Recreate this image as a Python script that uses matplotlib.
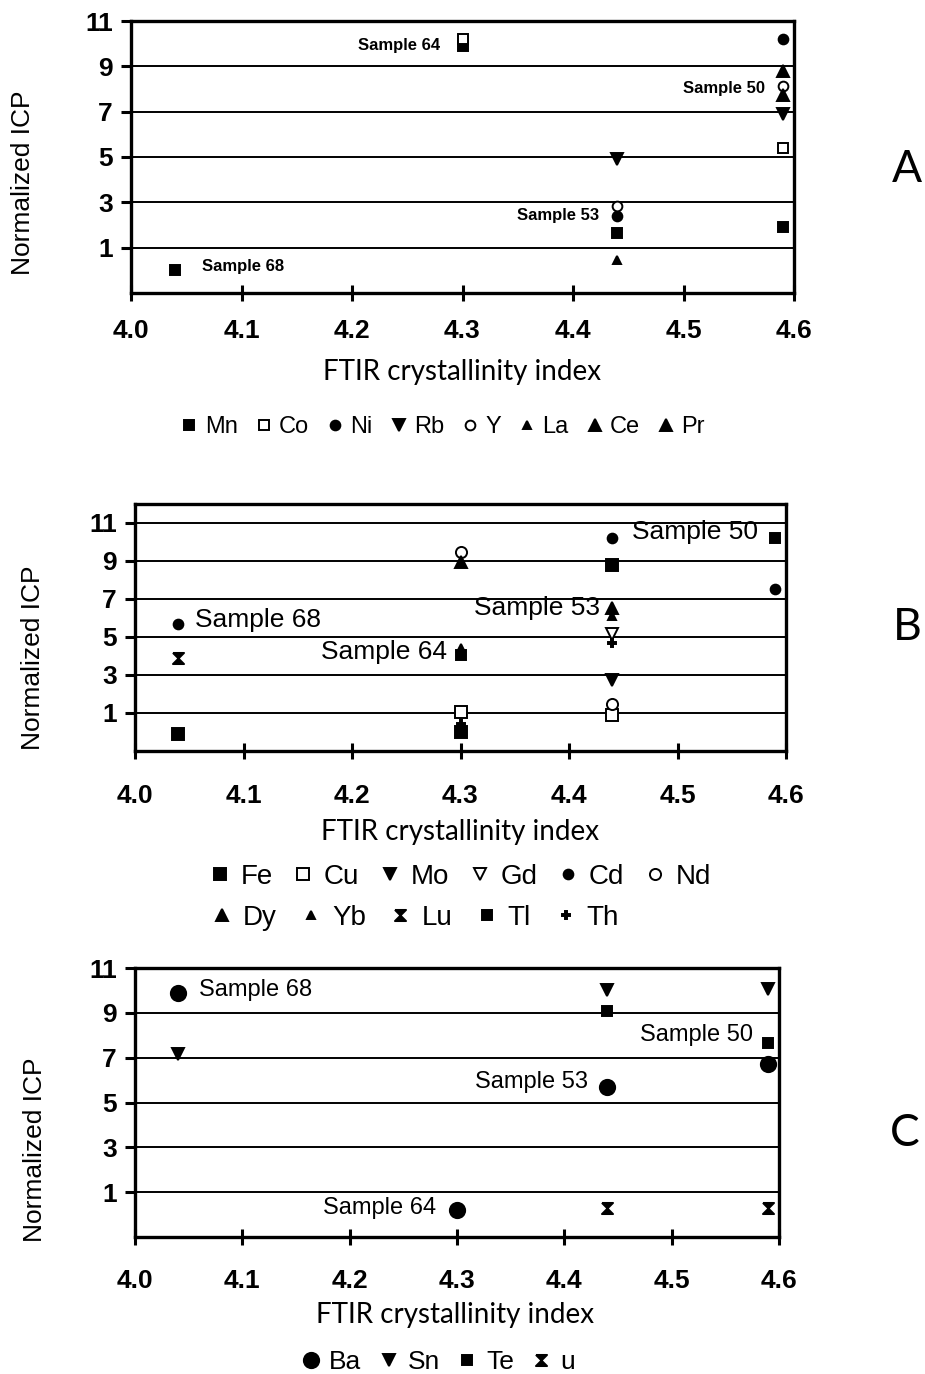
import numpy as np
import matplotlib
matplotlib.use("Agg")
import matplotlib.pyplot as plt
from matplotlib.lines import Line2D

plt.rcParams['font.family'] = ['Liberation Sans', 'DejaVu Sans']

nan = np.nan

# FTIR crystallinity index of each sample (x positions)
samples = ["Sample 68", "Sample 64", "Sample 53", "Sample 50"]
ftir_index = [4.04, 4.30, 4.44, 4.59]

# ---- Panel A: normalized ICP, order = samples 68, 64, 53, 50 ----
elements_a = ["Mn", "Co", "Ni", "Rb", "Y", "La", "Ce", "Pr"]
mn_a = [0.0, 9.9, 1.65, 1.9]
co_a = [nan, 10.2, nan, 5.4]
ni_a = [nan, nan, 2.4, 10.2]
rb_a = [nan, nan, 4.9, 6.9]
y_a = [nan, nan, 2.85, 8.15]
la_a = [nan, nan, 0.45, nan]
ce_a = [nan, nan, nan, 8.8]
pr_a = [nan, nan, nan, 7.75]
values_a = [mn_a, co_a, ni_a, rb_a, y_a, la_a, ce_a, pr_a]

# ---- Panel B ----
elements_b = ["Fe", "Cu", "Mo", "Gd", "Cd", "Nd", "Dy", "Yb", "Lu", "Tl", "Th"]
fe_b = [-0.1, 0.0, 8.8, nan]
cu_b = [nan, 1.05, 0.9, nan]
mo_b = [nan, nan, 2.75, nan]
gd_b = [nan, nan, 5.15, nan]
cd_b = [5.7, nan, 10.2, 7.55]
nd_b = [nan, 9.5, 1.5, nan]
dy_b = [nan, 8.95, 6.55, nan]
yb_b = [nan, 4.4, 6.1, nan]
lu_b = [3.9, nan, nan, nan]
tl_b = [nan, 4.05, nan, 10.2]
th_b = [nan, 0.4, 4.7, nan]
values_b = [fe_b, cu_b, mo_b, gd_b, cd_b, nd_b, dy_b, yb_b, lu_b, tl_b, th_b]

# ---- Panel C ----
elements_c = ["Ba", "Sn", "Te", "u"]
ba_c = [9.9, 0.2, 5.7, 6.7]
sn_c = [7.15, nan, 10.0, 10.05]
te_c = [nan, nan, 9.1, 7.65]
u_c = [nan, nan, 0.28, 0.3]
values_c = [ba_c, sn_c, te_c, u_c]

# sample label placement: (y value, horizontal offset in points)
label_pos_a = [(0.15, 19), (9.9, -16), (2.4, -13), (8.0, -13)]
label_pos_b = [(5.9, 12), (4.2, -10), (6.5, -9), (10.5, -12)]
label_pos_c = [(10.0, 15), (0.3, -15), (5.9, -14), (8.0, -11)]

HOURGLASS = [(-1, 1), (1, 1), (-1, -1), (1, -1), (-1, 1)]


def style(marker, size, open_face=False):
    return dict(marker=marker, ms=size, mec='black', mew=1.4,
                mfc='white' if open_face else 'black')


styles_a = [style('s', 7), style('s', 7, True), style('o', 7), style('v', 8),
            style('o', 7, True), style('^', 6), style('^', 8), style('^', 8)]
styles_b = [style('s', 8), style('s', 8, True), style('v', 8), style('v', 8, True),
            style('o', 7), style('o', 8, True), style('^', 8), style('^', 6),
            style(HOURGLASS, 8), style('s', 7), style('P', 6)]
styles_c = [style('o', 11), style('v', 8), style('s', 7), style(HOURGLASS, 8)]

W, H = 925, 1374
fig = plt.figure(figsize=(W / 100, H / 100), dpi=100)


def px_rect(left, right, top, bottom):
    return [left / W, 1 - bottom / H, (right - left) / W, (bottom - top) / H]


def panel(rect, ymax, elements, values, styles, label_pos, label_kw, xpad):
    ax = fig.add_axes(rect)
    ax.set_xlim(4.0, 4.6)
    ax.set_ylim(-1, ymax)
    ax.set_xticks(np.round(np.arange(4.0, 4.61, 0.1), 1))
    ax.set_xticklabels([f"{v:.1f}" for v in np.arange(4.0, 4.61, 0.1)],
                       fontsize=19, fontweight='bold')
    ax.set_yticks([1, 3, 5, 7, 9, 11])
    ax.set_yticklabels(["1", "3", "5", "7", "9", "11"], fontsize=19, fontweight='bold')
    ax.yaxis.grid(True, color='black', lw=1.4)
    ax.set_axisbelow(True)
    for sp in ax.spines.values():
        sp.set_linewidth(2.4)
    ax.tick_params(axis='x', direction='inout', length=12, width=2.2, pad=xpad)
    ax.tick_params(axis='y', direction='out', length=7, width=2.2, pad=6)
    for vals, st in zip(values, styles):
        ax.plot(ftir_index, vals, ls='none', **st)
    for name, xv, (yv, dx) in zip(samples, ftir_index, label_pos):
        ax.annotate(name, xy=(xv, yv), xytext=(dx, 0), textcoords='offset points',
                    ha='left' if dx > 0 else 'right', va='center', **label_kw)
    return ax


def legend_handles(styles):
    return [Line2D([], [], ls='none', **st) for st in styles]


title_font = dict(family=['Lato', 'DejaVu Sans'], fontsize=20)
letter_font = dict(family=['Lato', 'DejaVu Sans'], fontsize=32)

# Panel A
panel(px_rect(131, 794, 21, 293), 11, elements_a, values_a, styles_a, label_pos_a,
      dict(fontsize=12, fontweight='bold'), 13)
fig.text(462 / W, 1 - 372 / H, "FTIR crystallinity index", ha='center', va='center', **title_font)
fig.text(23 / W, 1 - 183 / H, "Normalized ICP", rotation=90, ha='center', va='center', fontsize=19)
fig.text(907 / W, 1 - 170 / H, "A", ha='center', va='center', **letter_font)
fig.legend(legend_handles(styles_a), elements_a, loc='center', ncol=8,
           bbox_to_anchor=(443 / W, 1 - 427 / H), frameon=False, fontsize=17,
           handlelength=0.7, handletextpad=0.3, columnspacing=0.75, borderpad=0)

# Panel B
panel(px_rect(135, 786, 504, 751), 12, elements_b, values_b, styles_b, label_pos_b,
      dict(fontsize=19), 18)
fig.text(460 / W, 1 - 832 / H, "FTIR crystallinity index", ha='center', va='center', **title_font)
fig.text(33 / W, 1 - 658 / H, "Normalized ICP", rotation=90, ha='center', va='center', fontsize=19)
fig.text(907 / W, 1 - 628 / H, "B", ha='center', va='center', **letter_font)
hb = legend_handles(styles_b)
fig.legend(hb[:6], elements_b[:6], loc='center left', ncol=6,
           bbox_to_anchor=(196 / W, 1 - 877 / H), frameon=False, fontsize=20,
           handlelength=0.7, handletextpad=0.4, columnspacing=0.75, borderpad=0)
fig.legend(hb[6:], elements_b[6:], loc='center left', ncol=5,
           bbox_to_anchor=(198 / W, 1 - 918 / H), frameon=False, fontsize=20,
           handlelength=0.7, handletextpad=0.4, columnspacing=0.9, borderpad=0)

# Panel C
panel(px_rect(135, 779, 968, 1237), 11, elements_c, values_c, styles_c, label_pos_c,
      dict(fontsize=17), 17)
fig.text(455 / W, 1 - 1315 / H, "FTIR crystallinity index", ha='center', va='center', **title_font)
fig.text(35 / W, 1 - 1150 / H, "Normalized ICP", rotation=90, ha='center', va='center', fontsize=19)
fig.text(905 / W, 1 - 1133 / H, "C", ha='center', va='center', **letter_font)
fig.legend(legend_handles(styles_c), elements_c, loc='center', ncol=4,
           bbox_to_anchor=(438 / W, 1 - 1362 / H), frameon=False, fontsize=19,
           handlelength=0.7, handletextpad=0.35, columnspacing=0.7, borderpad=0)

fig.savefig("out.png", dpi=100)
